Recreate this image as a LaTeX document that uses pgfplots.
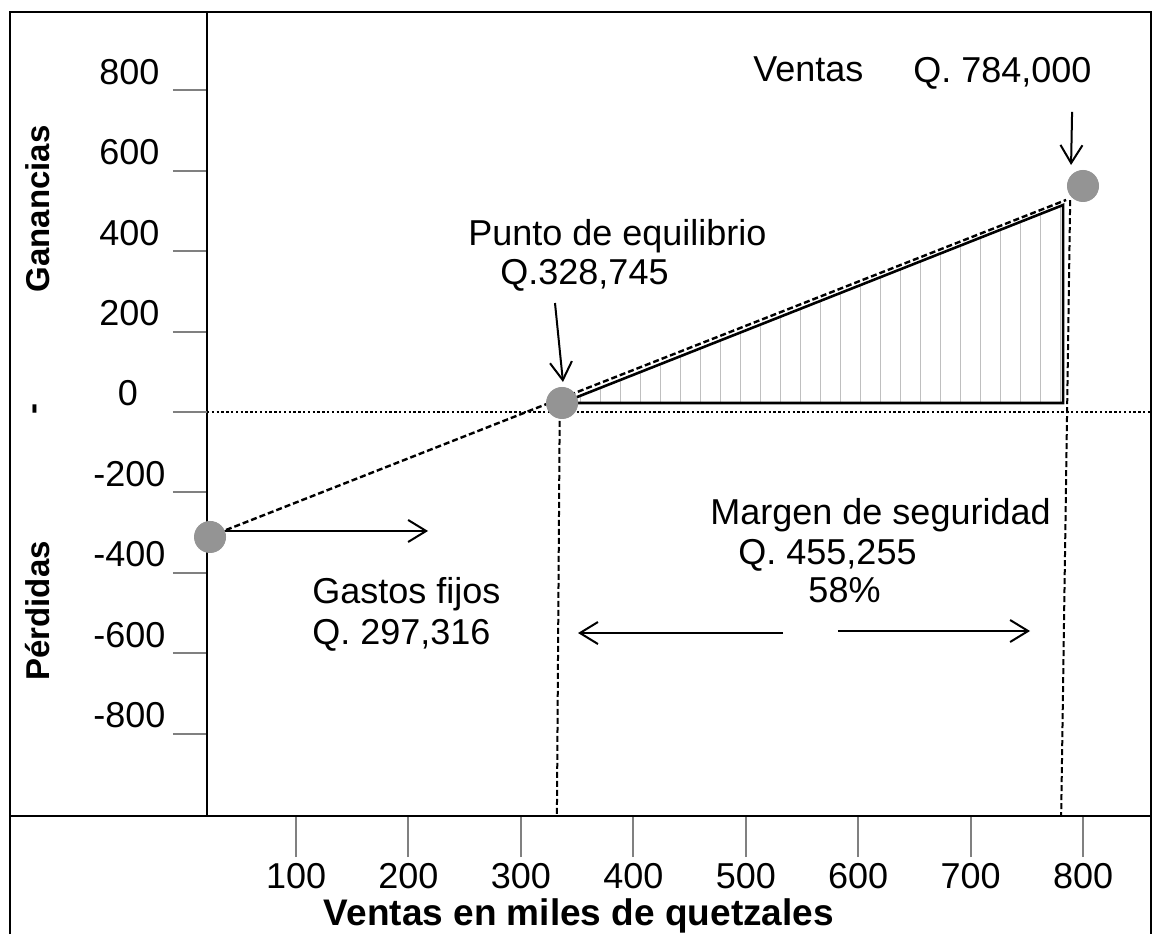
\documentclass[border=0pt]{standalone}
\usepackage{pgfplots}
\pgfplotsset{compat=1.18}
\usepackage{fontspec}
\setmainfont{Liberation Sans}
\usetikzlibrary{arrows.meta,patterns.meta}
\newcommand\fs{\fontsize{18}{21.6}\selectfont}
\begin{document}
\begin{tikzpicture}
\begin{axis}[
  at={(0pt,0pt)}, anchor=south west,
  scale only axis, width=472pt, height=402pt,
  xmin=20.8, xmax=860.4, ymin=-1005, ymax=995,
  clip=false,
  axis line style={line width=1pt},
  tick align=outside,
  xtick={100,200,...,800},
  ytick={-800,-600,-400,-200,200,400,600,800},
  extra y ticks={0},
  extra y tick style={/pgfplots/major tick length=0pt, yticklabel style={xshift=-5pt}},
  xtick pos=bottom, ytick pos=left,
  xtick style={line width=1pt, /pgfplots/major tick length=20.5pt},
  ytick style={line width=1pt, /pgfplots/major tick length=17pt},
  tick label style={font=\fs},
  /pgf/number format/assume math mode=true,
  /pgf/number format/1000 sep={},
  yticklabel style={anchor=center, xshift=-34.5pt, yshift=9.25pt},
  xticklabel style={anchor=center, yshift=-26pt},
  xlabel={Ventas en miles de quetzales},
  xlabel style={at={(rel axis cs:0.394,-0.1368)}, anchor=base, font=\bfseries\fontsize{18.5}{22}\selectfont},
]
% hatching of the profit triangle
\addplot[draw=none, pattern={Lines[angle=90,distance=10pt,line width=0.5pt]}, pattern color=black!25]
  coordinates {(336.6,22.4) (782.2,22.4) (782.2,514.9)} -- cycle;
% zero line
\addplot[line width=0.8pt, dash pattern=on 1.2pt off 1.2pt] coordinates {(20.8,0) (860.4,0)};
% profit triangle
\addplot[line width=1.3pt] coordinates {(336.6,22.4) (782.2,22.4) (782.2,514.9) (336.6,22.4)};
% dashed profit line
\addplot[line width=1.2pt, dash pattern=on 3pt off 1.5pt] coordinates {(37.7,-293.5) (784.9,527.4)};
% dashed verticals
\addplot[line width=1pt, dash pattern=on 3pt off 1.5pt] coordinates {(334.5,0) (332,-1005)};
\addplot[line width=1pt, dash pattern=on 3pt off 1.5pt] coordinates {(788.5,527) (780.5,-1005)};
% points
\addplot[only marks, mark=*, mark size=7.8pt, mark options={fill=black!42, draw=black!42}]
  coordinates {(23.5,-310.9) (336.6,22.4) (799.9,562.2)};
% arrows
\tikzset{arr/.style={line width=1pt, -{Straight Barb[length=9pt,width=11pt,line width=1pt]}}}
\draw[arr] (axis cs:790.2,746.3) -- (axis cs:789.3,614.4);
\draw[arr] (axis cs:330.3,271.1) -- (axis cs:337.4,74.6);
\draw[arr] (axis cs:35.0,-296) -- (axis cs:217.4,-296);
\draw[arr] (axis cs:533.1,-549.8) -- (axis cs:350.8,-549.8);
\draw[arr] (axis cs:582.0,-544.8) -- (axis cs:752.8,-544.8);
% texts
\tikzset{lab/.style={anchor=base west, inner sep=0pt, font=\fs}}
\node[lab] at (axis cs:506.4,820.9) {Ventas};
\node[lab] at (axis cs:648.7,818.4) {Q. 784,000};
\node[lab] at (axis cs:252.9,415.4) {Punto de equilibrio};
\node[lab] at (axis cs:281.4,315.9) {Q.328,745};
\node[lab] at (axis cs:468.2,-281.1) {Margen de seguridad};
\node[lab] at (axis cs:493.1,-380.6) {Q. 455,255};
\node[lab] at (axis cs:555.4,-475.1) {58\%};
\node[lab] at (axis cs:114.2,-477.6) {Gastos fijos};
\node[lab] at (axis cs:114.2,-579.6) {Q. 297,316};
% rotated y labels
\tikzset{ylab/.style={rotate=90, anchor=center, inner sep=0pt, font=\bfseries\fontsize{16.5}{20}\selectfont}}
\node[ylab] at (rel axis cs:-0.179,0.755) {Ganancias};
\node[ylab] at (rel axis cs:-0.179,0.506) {-};
\node[ylab] at (rel axis cs:-0.179,0.255) {Pérdidas};
\end{axis}
% outer frame
\draw[line width=1pt] (-98.5pt,-59pt) -- (-98.5pt,402pt) -- (0pt,402pt);
\draw[line width=1pt] (-98.5pt,0pt) -- (0pt,0pt);
\draw[line width=1pt] (472pt,0pt) -- (472pt,-59pt);
\path[use as bounding box] (-103.5pt,-59pt) rectangle (474pt,408pt);
\end{tikzpicture}
\end{document}
